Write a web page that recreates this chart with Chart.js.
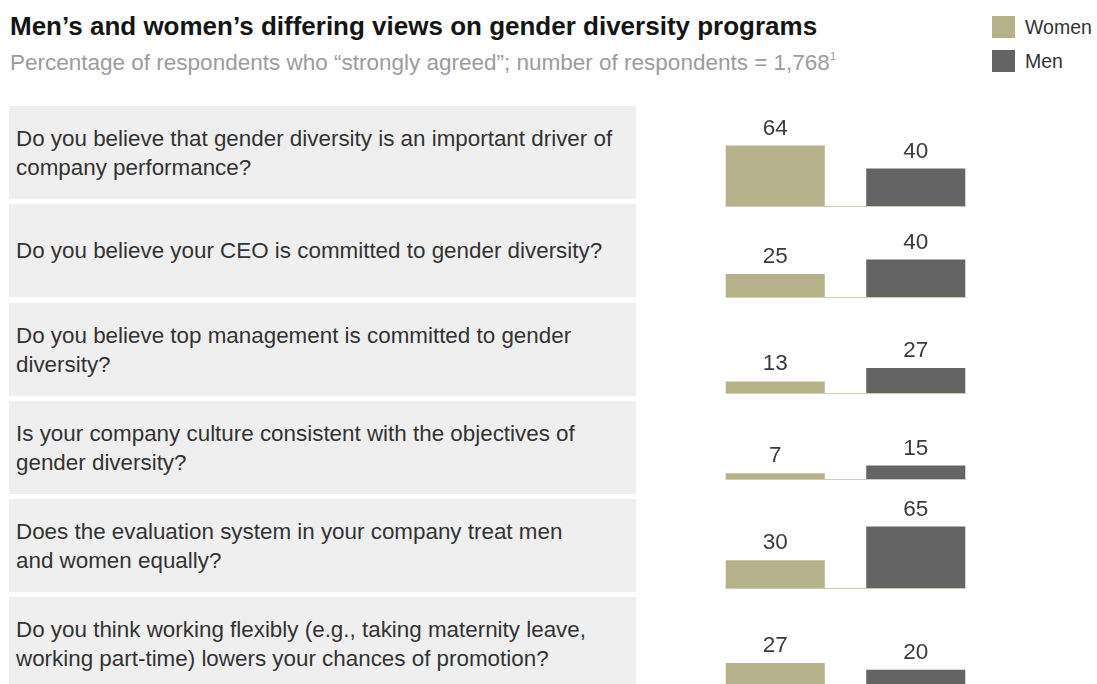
<!DOCTYPE html>
<html>
<head>
<meta charset="utf-8">
<script src="https://cdn.jsdelivr.net/npm/chart.js@4.4.1/dist/chart.umd.min.js"></script>
<style>
  body { margin: 0; background: #fff; font-family: "Liberation Sans", Arial, sans-serif; }
  #pagina { position: relative; width: 1097px; height: 684px; overflow: hidden; }
  #titulo { position: absolute; left: 10px; top: 11px; font-size: 26px; font-weight: bold; color: #151515; white-space: nowrap; }
  #subtitulo { position: absolute; left: 10px; top: 50px; font-size: 22.5px; color: #9c9c9c; white-space: nowrap; }
  #subtitulo sup { font-size: 11px; vertical-align: 10px; }
  .legenda { position: absolute; left: 992px; font-size: 19.5px; color: #333; white-space: nowrap; }
  .legenda span { display: inline-block; width: 23px; height: 22px; vertical-align: -4px; margin-right: 10px; }
  .linha { position: absolute; left: 9px; width: 627px; height: 93px; background: #efefef;
           display: flex; align-items: center; box-sizing: border-box; padding-left: 7px;
           font-size: 22.4px; line-height: 29px; color: #333; }
  .grafico { position: absolute; left: 705px; width: 281px; height: 120px; }
</style>
</head>
<body>
<div id="pagina">
  <div id="titulo">Men’s and women’s differing views on gender diversity programs</div>
  <div id="subtitulo">Percentage of respondents who “strongly agreed”; number of respondents = 1,768<sup>1</sup></div>
  <div class="legenda" style="top:16px"><span style="background:#b4b18b"></span>Women</div>
  <div class="legenda" style="top:50px"><span style="background:#646464"></span>Men</div>
</div>
<script>
// ============================ DADOS ============================
const perguntas = [
  ["Do you believe that gender diversity is an important driver of", "company performance?"],
  ["Do you believe your CEO is committed to gender diversity?"],
  ["Do you believe top management is committed to gender", "diversity?"],
  ["Is your company culture consistent with the objectives of", "gender diversity?"],
  ["Does the evaluation system in your company treat men", "and women equally?"],
  ["Do you think working flexibly (e.g., taking maternity leave,", "working part-time) lowers your chances of promotion?"]
]
const grupos = ["Women", "Men"]
const valoresWomen = [64, 25, 13, 7, 30, 27]
const valoresMen = [40, 40, 27, 15, 65, 20]

// ============================ LAYOUT ============================
const topoLinha = [106, 204, 303, 401, 499, 597]
const baseGrafico = [207, 298, 394, 480, 589, 689]
const corWomen = '#b4b18b'
const corMen = '#646464'

// plugin: linha de base sob as barras + valor em cima de cada barra
const rotulosPlugin = {
  id: 'rotulos',
  afterDatasetsDraw(chart) {
    const ctx = chart.ctx
    const barras = chart.getDatasetMeta(0).data
    const zero = chart.scales.y.getPixelForValue(0)
    const esq = barras[0].x - barras[0].width / 2
    const dir = barras[barras.length - 1].x + barras[barras.length - 1].width / 2
    ctx.save()
    ctx.fillStyle = '#cfcdaf'
    ctx.fillRect(esq, zero - 1, dir - esq + 1, 2)
    ctx.fillStyle = '#3b3b3b'
    ctx.font = '22.5px "Liberation Sans", Arial, sans-serif'
    ctx.textAlign = 'center'
    ctx.textBaseline = 'bottom'
    const valores = chart.data.datasets[0].data
    barras.forEach((b, i) => {
      ctx.fillText(valores[i], b.x, b.y - 6)
    })
    ctx.restore()
  }
}

const pagina = document.getElementById('pagina')

perguntas.forEach((linhas, i) => {
  // caixa cinza com a pergunta
  const caixa = document.createElement('div')
  caixa.className = 'linha'
  caixa.style.top = topoLinha[i] + 'px'
  caixa.innerHTML = linhas.join('<br>')
  pagina.appendChild(caixa)

  // gráfico de barras da linha
  const canvas = document.createElement('canvas')
  canvas.className = 'grafico'
  canvas.width = 281
  canvas.height = 120
  canvas.style.top = (baseGrafico[i] - 120) + 'px'
  pagina.appendChild(canvas)

  new Chart(canvas.getContext('2d'), {
    type: 'bar',
    data: {
      labels: grupos,
      datasets: [{
        data: [valoresWomen[i], valoresMen[i]],
        backgroundColor: [corWomen, corMen],
        borderWidth: 0,
        categoryPercentage: 1,
        barPercentage: 0.705
      }]
    },
    options: {
      responsive: false,
      animation: false,
      layout: { padding: 0 },
      plugins: { legend: { display: false }, tooltip: { enabled: false } },
      scales: {
        x: { display: false },
        y: { display: false, min: 0, max: 125 }
      }
    },
    plugins: [rotulosPlugin]
  })
})
</script>
</body>
</html>
